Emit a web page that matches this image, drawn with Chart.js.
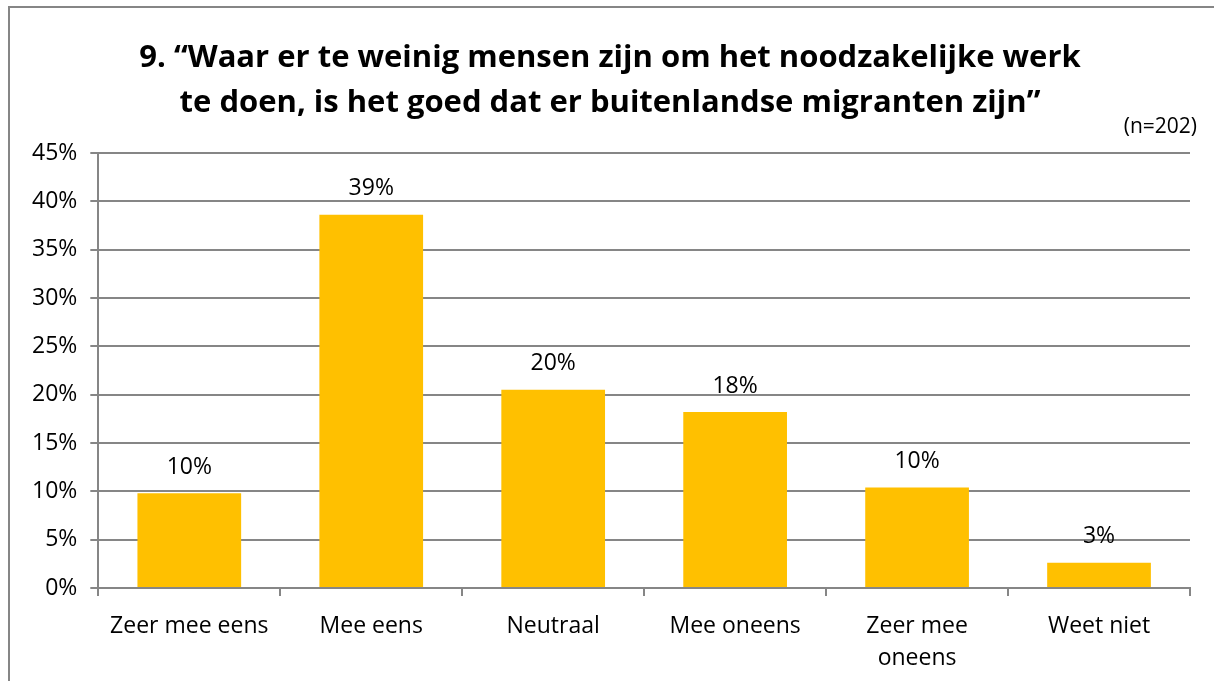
<!DOCTYPE html>
<html>
<head>
<meta charset="utf-8">
<script src="https://cdn.jsdelivr.net/npm/chart.js@4"></script>
<style>
html,body{margin:0;padding:0;background:#fff;}
#wrap{position:absolute;left:0;top:0;width:1214px;height:681px;}
</style>
</head>
<body>
<div id="wrap"><canvas id="c" width="1214" height="681"></canvas></div>
<script>
const categories = ['Zeer mee eens', 'Mee eens', 'Neutraal', 'Mee oneens', ['Zeer mee', 'oneens'], 'Weet niet'];
const values = [9.8, 38.6, 20.5, 18.2, 10.4, 2.6];
const valueLabels = ['10%', '39%', '20%', '18%', '10%', '3%'];
const titleLines = ['9. \u201cWaar er te weinig mensen zijn om het noodzakelijke werk', 'te doen, is het goed dat er buitenlandse migranten zijn\u201d'];
const noteText = '(n=202)';

const FONT = '"Open Sans", sans-serif';
const GRID = '#868686';
const FS = 23;

const decor = {
  id: 'decor',
  beforeDraw(chart) {
    const ctx = chart.ctx;
    ctx.save();
    ctx.fillStyle = '#fff';
    ctx.fillRect(0, 0, chart.width, chart.height);
    ctx.strokeStyle = GRID;
    ctx.lineWidth = 2;
    ctx.beginPath();
    ctx.moveTo(9, 700);
    ctx.lineTo(9, 7);
    ctx.lineTo(1230, 7);
    ctx.stroke();
    ctx.fillStyle = '#000';
    ctx.textAlign = 'center';
    ctx.textBaseline = 'middle';
    ctx.font = 'bold 31px ' + FONT;
    ctx.fillText(titleLines[0], 610, 58);
    ctx.fillText(titleLines[1], 610, 103);
    ctx.font = '21px ' + FONT;
    ctx.textAlign = 'right';
    ctx.fillText(noteText, 1197, 127);
    ctx.restore();
  },
  afterDatasetsDraw(chart) {
    const ctx = chart.ctx;
    const meta = chart.getDatasetMeta(0);
    ctx.save();
    ctx.fillStyle = '#000';
    ctx.font = FS + 'px ' + FONT;
    ctx.textAlign = 'center';
    ctx.textBaseline = 'middle';
    meta.data.forEach((bar, i) => {
      ctx.fillText(valueLabels[i], bar.x, bar.y - 26);
    });
    ctx.restore();
  }
};

new Chart(document.getElementById('c'), {
  type: 'bar',
  data: {
    labels: categories,
    datasets: [{
      data: values,
      backgroundColor: '#FFC000',
      barPercentage: 0.57,
      categoryPercentage: 1.0
    }]
  },
  options: {
    responsive: false,
    animation: false,
    devicePixelRatio: 1,
    layout: { padding: { top: 153, left: 19, right: 24, bottom: 0 } },
    plugins: { legend: { display: false }, title: { display: false }, tooltip: { enabled: false } },
    scales: {
      x: {
        afterFit(scale) { scale.height = 93; },
        grid: { display: true, drawOnChartArea: false, color: GRID, lineWidth: 2, tickLength: 8, offset: true },
        border: { color: GRID, width: 2 },
        ticks: { color: '#000', font: { family: FONT, size: FS, lineHeight: 1.4 }, maxRotation: 0, autoSkip: false, padding: 14 }
      },
      y: {
        min: 0, max: 45,
        grid: { color: GRID, lineWidth: 2, tickLength: 8 },
        border: { color: GRID, width: 2 },
        ticks: { stepSize: 5, color: '#000', font: { family: FONT, size: FS }, padding: 13, callback: v => v + '%' }
      }
    }
  },
  plugins: [decor]
});
</script>
</body>
</html>
